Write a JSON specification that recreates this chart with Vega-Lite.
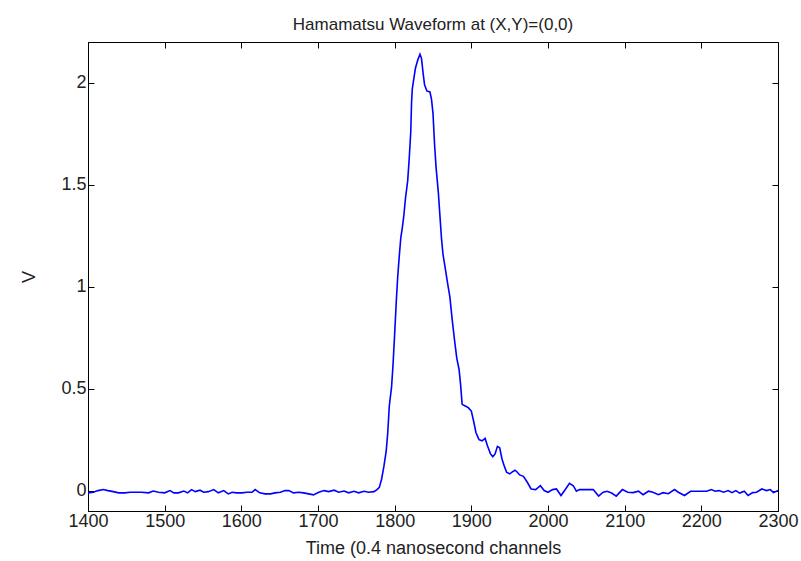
{
  "$schema": "https://vega.github.io/schema/vega-lite/v6.json",
  "autosize": "none",
  "width": 690,
  "height": 469,
  "padding": {"left": 88, "top": 42, "right": 23, "bottom": 50},
  "background": "white",
  "config": {
    "view": {"stroke": "black", "strokeWidth": 1},
    "font": "Liberation Sans",
    "axis": {
      "grid": false,
      "domainColor": "black",
      "tickColor": "black",
      "tickSize": -6,
      "tickWidth": 1,
      "labelColor": "#222222",
      "titleColor": "#222222",
      "labelFont": "Liberation Sans",
      "titleFont": "Liberation Sans",
      "labelFontSize": 18,
      "titleFontSize": 18,
      "titleFontWeight": "normal"
    }
  },
  "title": {
    "text": "Hamamatsu Waveform at (X,Y)=(0,0)",
    "font": "Liberation Sans",
    "fontSize": 17,
    "fontWeight": "normal",
    "color": "#222222",
    "anchor": "middle",
    "offset": 8
  },
  "data": {
    "values": [
      {"t": 1400, "v": -0.011}, {"t": 1407, "v": -0.008}, {"t": 1413, "v": 0.0}, {"t": 1420, "v": 0.005},
      {"t": 1426, "v": 0.0}, {"t": 1433, "v": -0.005}, {"t": 1440, "v": -0.011}, {"t": 1448, "v": -0.011},
      {"t": 1455, "v": -0.008}, {"t": 1461, "v": -0.008}, {"t": 1470, "v": -0.008}, {"t": 1479, "v": -0.011},
      {"t": 1485, "v": -0.002}, {"t": 1492, "v": -0.008}, {"t": 1500, "v": -0.011}, {"t": 1507, "v": 0.0},
      {"t": 1512, "v": -0.011}, {"t": 1518, "v": -0.011}, {"t": 1525, "v": -0.002}, {"t": 1530, "v": -0.011},
      {"t": 1535, "v": 0.005}, {"t": 1540, "v": -0.005}, {"t": 1546, "v": 0.002}, {"t": 1551, "v": -0.008},
      {"t": 1557, "v": -0.005}, {"t": 1564, "v": 0.005}, {"t": 1570, "v": -0.011}, {"t": 1577, "v": 0.0},
      {"t": 1583, "v": -0.016}, {"t": 1588, "v": -0.008}, {"t": 1594, "v": -0.011}, {"t": 1601, "v": -0.011},
      {"t": 1607, "v": -0.008}, {"t": 1614, "v": -0.008}, {"t": 1618, "v": 0.005}, {"t": 1624, "v": -0.011},
      {"t": 1631, "v": -0.016}, {"t": 1638, "v": -0.016}, {"t": 1644, "v": -0.011}, {"t": 1651, "v": -0.008},
      {"t": 1657, "v": 0.0}, {"t": 1662, "v": 0.0}, {"t": 1668, "v": -0.011}, {"t": 1675, "v": -0.008},
      {"t": 1681, "v": -0.011}, {"t": 1688, "v": -0.016}, {"t": 1694, "v": -0.021}, {"t": 1701, "v": -0.008},
      {"t": 1708, "v": 0.0}, {"t": 1714, "v": -0.005}, {"t": 1721, "v": 0.002}, {"t": 1727, "v": -0.008},
      {"t": 1734, "v": -0.002}, {"t": 1740, "v": -0.011}, {"t": 1747, "v": -0.003}, {"t": 1753, "v": -0.011},
      {"t": 1760, "v": -0.003}, {"t": 1766, "v": -0.008}, {"t": 1773, "v": -0.005}, {"t": 1777, "v": 0.005},
      {"t": 1780, "v": 0.016}, {"t": 1783, "v": 0.057}, {"t": 1786, "v": 0.12}, {"t": 1789, "v": 0.195},
      {"t": 1791, "v": 0.285}, {"t": 1793, "v": 0.415}, {"t": 1796, "v": 0.51}, {"t": 1798, "v": 0.626},
      {"t": 1800, "v": 0.77}, {"t": 1802, "v": 0.92}, {"t": 1804, "v": 1.05}, {"t": 1806, "v": 1.15},
      {"t": 1808, "v": 1.24}, {"t": 1810, "v": 1.29}, {"t": 1812, "v": 1.35}, {"t": 1814, "v": 1.43},
      {"t": 1817, "v": 1.52}, {"t": 1819, "v": 1.63}, {"t": 1821, "v": 1.76}, {"t": 1822, "v": 1.9},
      {"t": 1823, "v": 1.97}, {"t": 1825, "v": 2.02}, {"t": 1827, "v": 2.07}, {"t": 1830, "v": 2.11},
      {"t": 1833, "v": 2.14}, {"t": 1835, "v": 2.12}, {"t": 1837, "v": 2.05}, {"t": 1839, "v": 1.99},
      {"t": 1842, "v": 1.96}, {"t": 1846, "v": 1.955}, {"t": 1848, "v": 1.92}, {"t": 1850, "v": 1.85},
      {"t": 1852, "v": 1.7}, {"t": 1854, "v": 1.585}, {"t": 1857, "v": 1.46}, {"t": 1859, "v": 1.35},
      {"t": 1861, "v": 1.24}, {"t": 1863, "v": 1.16}, {"t": 1866, "v": 1.09}, {"t": 1869, "v": 1.017},
      {"t": 1872, "v": 0.95}, {"t": 1875, "v": 0.84}, {"t": 1878, "v": 0.74}, {"t": 1881, "v": 0.65},
      {"t": 1884, "v": 0.594}, {"t": 1886, "v": 0.52}, {"t": 1888, "v": 0.423}, {"t": 1892, "v": 0.415},
      {"t": 1896, "v": 0.407}, {"t": 1900, "v": 0.39}, {"t": 1903, "v": 0.34}, {"t": 1906, "v": 0.285},
      {"t": 1910, "v": 0.25}, {"t": 1914, "v": 0.244}, {"t": 1918, "v": 0.256}, {"t": 1921, "v": 0.22},
      {"t": 1925, "v": 0.18}, {"t": 1928, "v": 0.166}, {"t": 1931, "v": 0.18}, {"t": 1934, "v": 0.217},
      {"t": 1937, "v": 0.21}, {"t": 1940, "v": 0.155}, {"t": 1943, "v": 0.12}, {"t": 1946, "v": 0.09},
      {"t": 1950, "v": 0.082}, {"t": 1954, "v": 0.093}, {"t": 1957, "v": 0.1}, {"t": 1960, "v": 0.09},
      {"t": 1963, "v": 0.077}, {"t": 1968, "v": 0.07}, {"t": 1973, "v": 0.041}, {"t": 1978, "v": 0.008},
      {"t": 1984, "v": 0.005}, {"t": 1990, "v": 0.024}, {"t": 1995, "v": 0.0}, {"t": 2000, "v": -0.008},
      {"t": 2006, "v": 0.005}, {"t": 2011, "v": 0.008}, {"t": 2017, "v": -0.024}, {"t": 2023, "v": 0.008},
      {"t": 2028, "v": 0.036}, {"t": 2033, "v": 0.024}, {"t": 2037, "v": -0.003}, {"t": 2041, "v": 0.005},
      {"t": 2050, "v": 0.005}, {"t": 2059, "v": 0.005}, {"t": 2066, "v": -0.027}, {"t": 2072, "v": -0.008},
      {"t": 2077, "v": -0.003}, {"t": 2083, "v": -0.012}, {"t": 2089, "v": -0.027}, {"t": 2097, "v": 0.005},
      {"t": 2104, "v": -0.008}, {"t": 2111, "v": -0.01}, {"t": 2118, "v": -0.003}, {"t": 2124, "v": -0.02},
      {"t": 2131, "v": -0.003}, {"t": 2137, "v": -0.008}, {"t": 2144, "v": -0.02}, {"t": 2150, "v": -0.01},
      {"t": 2157, "v": -0.015}, {"t": 2165, "v": 0.005}, {"t": 2170, "v": -0.008}, {"t": 2178, "v": -0.024},
      {"t": 2186, "v": -0.003}, {"t": 2194, "v": -0.003}, {"t": 2200, "v": -0.003}, {"t": 2207, "v": -0.003},
      {"t": 2213, "v": 0.005}, {"t": 2218, "v": -0.003}, {"t": 2223, "v": 0.0}, {"t": 2229, "v": -0.008},
      {"t": 2235, "v": 0.0}, {"t": 2240, "v": -0.01}, {"t": 2245, "v": 0.0}, {"t": 2250, "v": -0.012},
      {"t": 2256, "v": -0.003}, {"t": 2261, "v": -0.024}, {"t": 2267, "v": -0.01}, {"t": 2272, "v": -0.008},
      {"t": 2279, "v": 0.008}, {"t": 2285, "v": 0.0}, {"t": 2290, "v": 0.005}, {"t": 2294, "v": -0.01},
      {"t": 2298, "v": -0.003}, {"t": 2300, "v": 0.0}
    ]
  },
  "layer": [
    {
      "mark": {"type": "line", "color": "#0000ff", "strokeWidth": 1.6, "clip": true},
      "encoding": {
        "x": {
          "field": "t", "type": "quantitative",
          "scale": {"domain": [1400, 2300], "nice": false, "zero": false},
          "axis": {
            "orient": "bottom",
            "title": "Time (0.4 nanosecond channels",
            "values": [1400, 1500, 1600, 1700, 1800, 1900, 2000, 2100, 2200, 2300],
            "format": "d",
            "labelPadding": 7,
            "titlePadding": 9,
            "labelFlush": false
          }
        },
        "y": {
          "field": "v", "type": "quantitative",
          "scale": {"domain": [-0.1, 2.2], "nice": false, "zero": false},
          "axis": {
            "orient": "left",
            "title": "V",
            "values": [0, 0.5, 1, 1.5, 2],
            "format": "~g",
            "labelPadding": 8,
            "titlePadding": 22,
            "labelFlush": false
          }
        }
      }
    },
    {
      "mark": {"type": "line", "opacity": 0},
      "encoding": {
        "x": {
          "field": "t", "type": "quantitative",
          "axis": {
            "orient": "top", "title": null, "labels": false, "domain": false,
            "values": [1400, 1500, 1600, 1700, 1800, 1900, 2000, 2100, 2200, 2300]
          }
        },
        "y": {
          "field": "v", "type": "quantitative",
          "axis": {
            "orient": "right", "title": null, "labels": false, "domain": false,
            "values": [0, 0.5, 1, 1.5, 2]
          }
        }
      }
    }
  ],
  "resolve": {"axis": {"x": "independent", "y": "independent"}}
}
